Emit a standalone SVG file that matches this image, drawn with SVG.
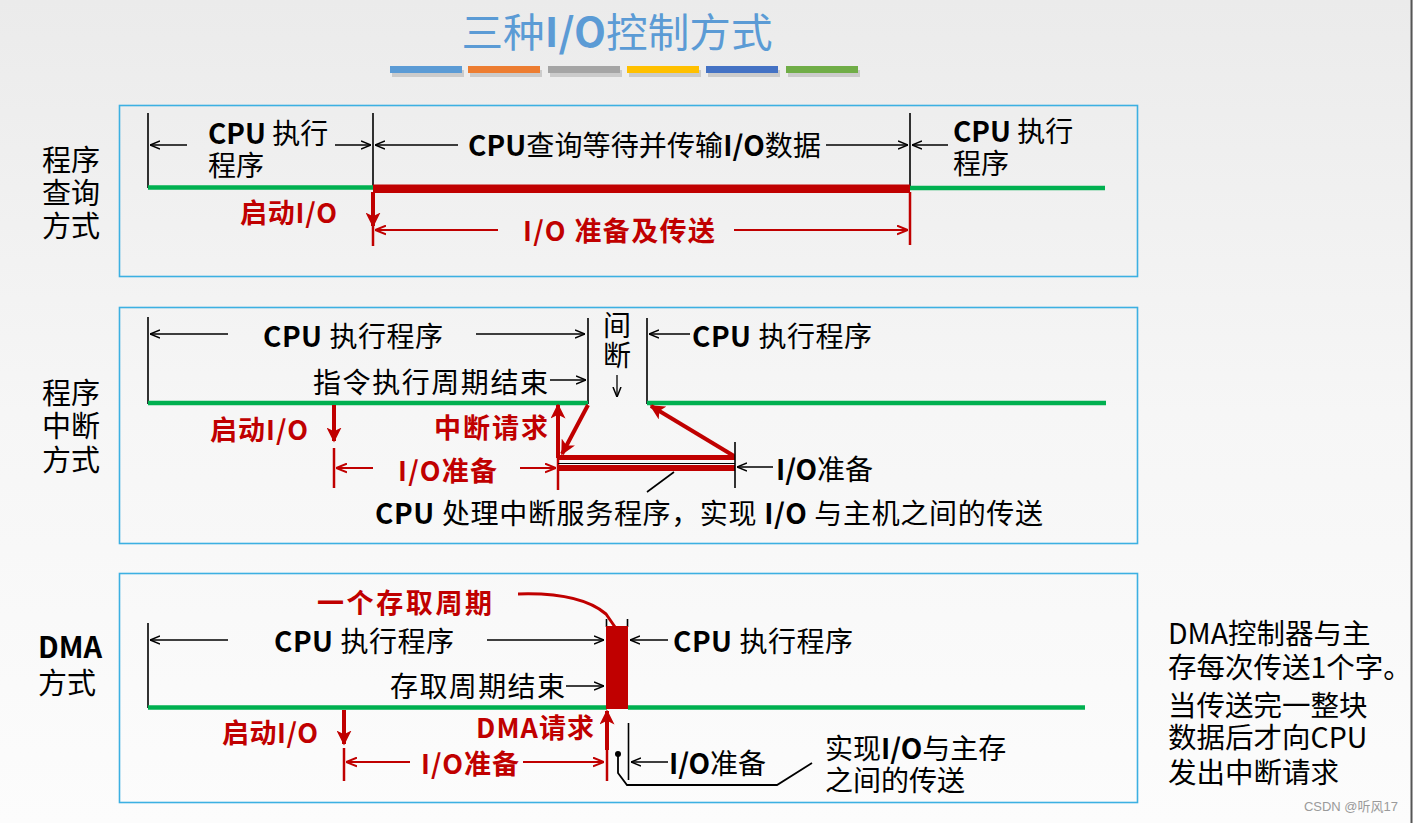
<svg xmlns="http://www.w3.org/2000/svg" width="1413" height="823" viewBox="0 0 1413 823">
<defs>
<linearGradient id="bg" x1="0" y1="0" x2="0" y2="1">
<stop offset="0" stop-color="#ebebeb"/>
<stop offset="0.5" stop-color="#f6f6f6"/>
<stop offset="1" stop-color="#fcfcfc"/>
</linearGradient>
<marker id="ab" viewBox="0 0 10 10" refX="10" refY="5" markerWidth="10" markerHeight="10" markerUnits="userSpaceOnUse" orient="auto">
<path d="M0,1 L10,5 L0,9" fill="none" stroke="#000" stroke-width="1.5"/>
</marker>
<marker id="ar" viewBox="0 0 10 10" refX="10" refY="5" markerWidth="11" markerHeight="11" markerUnits="userSpaceOnUse" orient="auto">
<path d="M0,1 L10,5 L0,9" fill="none" stroke="#c00000" stroke-width="1.8"/>
</marker>
<marker id="rf" viewBox="0 0 10 10" refX="9" refY="5" markerWidth="15" markerHeight="15" markerUnits="userSpaceOnUse" orient="auto">
<path d="M0,0 L10,5 L0,10 L2.5,5 Z" fill="#c00000"/>
</marker>
<style>
.box{fill:none;stroke:#3cb0e2;stroke-width:1.6}
.t{font-family:"Noto Sans CJK SC","Liberation Sans",sans-serif;font-size:28px;fill:#000}
.r{font-family:"Noto Sans CJK SC","Liberation Sans",sans-serif;font-size:27px;font-weight:bold;fill:#c00000}
.lbl{font-family:"Noto Sans CJK SC","Liberation Sans",sans-serif;font-size:29px;fill:#000}
.side{font-family:"Noto Sans CJK SC","Liberation Sans",sans-serif;font-size:28.5px;fill:#000}
.b{font-weight:bold}
.k{stroke:#000;stroke-width:1.6;fill:none}
.ka{stroke:#000;stroke-width:1.6;fill:none;marker-end:url(#ab)}
.ra{stroke:#c00000;stroke-width:2;fill:none;marker-end:url(#ar)}
.rt{stroke:#c00000;stroke-width:2.5;fill:none}
.rA{stroke:#c00000;stroke-width:4;fill:none;marker-end:url(#rf)}
.g{stroke:#00b050;stroke-width:4.5;fill:none}
</style>
</defs>
<rect width="1413" height="823" fill="url(#bg)"/>
<line x1="1411.5" y1="0" x2="1411.5" y2="823" stroke="#555" stroke-width="2"/>

<g id="title">
<text x="617" y="47" text-anchor="middle" font-family="'Noto Sans CJK SC','Liberation Sans',sans-serif" font-size="40" fill="#5b9bd5" textLength="311" lengthAdjust="spacingAndGlyphs">三种<tspan font-weight="bold">I/O</tspan>控制方式</text>
<g fill="#b5b5b5" opacity="0.6">
<rect x="392" y="70" width="72" height="7"/><rect x="470" y="70" width="72" height="7"/><rect x="550" y="70" width="72" height="7"/><rect x="629" y="70" width="72" height="7"/><rect x="708" y="70" width="72" height="7"/><rect x="788" y="70" width="72" height="7"/>
</g>
<rect x="390" y="66" width="72" height="7" fill="#5b9bd5"/>
<rect x="468" y="66" width="72" height="7" fill="#ed7d31"/>
<rect x="548" y="66" width="72" height="7" fill="#a5a5a5"/>
<rect x="627" y="66" width="72" height="7" fill="#ffc000"/>
<rect x="706" y="66" width="72" height="7" fill="#4472c4"/>
<rect x="786" y="66" width="72" height="7" fill="#70ad47"/>
</g>

<g id="frames">
<rect class="box" x="119.5" y="105.5" width="1018" height="171"/>
<rect class="box" x="119.5" y="307.5" width="1018" height="236"/>
<rect class="box" x="119.5" y="573.5" width="1018" height="229"/>
</g>

<g id="row-labels">
<g id="label-poll"><text class="lbl" x="42" y="171">程序<tspan x="42" dy="33">查询</tspan><tspan x="42" dy="33">方式</tspan></text></g>
<g id="label-int"><text class="lbl" x="42" y="404">程序<tspan x="42" dy="33">中断</tspan><tspan x="42" dy="34">方式</tspan></text></g>
<g id="label-dma"><text class="lbl" x="38" y="658"><tspan font-weight="bold">DMA</tspan><tspan x="38" dy="36">方式</tspan></text></g>
</g>

<g id="connectors">
<!-- section 1 -->
<line class="k" x1="148" y1="113" x2="148" y2="188"/>
<line class="k" x1="373" y1="113" x2="373" y2="188"/>
<line class="k" x1="910" y1="113" x2="910" y2="188"/>
<line class="g" x1="148" y1="187.5" x2="373" y2="187.5"/>
<rect x="373" y="184.5" width="537" height="8.5" fill="#c00000"/>
<line class="g" x1="910" y1="188" x2="1105" y2="188"/>
<line class="ka" x1="187" y1="145" x2="150" y2="145"/>
<line class="ka" x1="335" y1="145" x2="371" y2="145"/>
<line class="ka" x1="458" y1="145" x2="375" y2="145"/>
<line class="ka" x1="826" y1="145" x2="908" y2="145"/>
<line class="ka" x1="948" y1="145" x2="912" y2="145"/>
<line class="rA" x1="373" y1="192" x2="373" y2="226"/>
<line class="rt" x1="373" y1="222" x2="373" y2="246"/>
<line class="rt" x1="910" y1="192" x2="910" y2="245"/>
<line class="ra" x1="498" y1="230" x2="375" y2="230"/>
<line class="ra" x1="734" y1="230" x2="908" y2="230"/>

<!-- section 2 -->
<line class="k" x1="148" y1="317" x2="148" y2="404"/>
<line class="k" x1="588" y1="318" x2="588" y2="404"/>
<line class="k" x1="647" y1="318" x2="647" y2="404"/>
<line class="g" x1="148" y1="403" x2="588" y2="403"/>
<line class="g" x1="647" y1="403" x2="1106" y2="403"/>
<line class="ka" x1="228" y1="334" x2="150" y2="334"/>
<line class="ka" x1="476" y1="334" x2="585" y2="334"/>
<line class="ka" x1="550" y1="380" x2="586" y2="380"/>
<line class="ka" x1="690" y1="334" x2="649" y2="334"/>
<line class="k" x1="617" y1="375" x2="617" y2="397" marker-end="url(#ab)" style="stroke-width:1.3"/>
<line class="rA" x1="334" y1="405" x2="334" y2="441"/>
<line class="rt" x1="334" y1="448" x2="334" y2="488"/>
<line class="ra" x1="373" y1="468" x2="336" y2="468"/>
<line class="ra" x1="520" y1="468" x2="556" y2="468"/>
<line class="rt" x1="558" y1="455" x2="558" y2="490"/>
<line class="rA" x1="558" y1="458" x2="558" y2="405"/>
<line class="rA" x1="588" y1="405" x2="562" y2="454"/>
<rect x="558" y="455" width="177" height="5" fill="#c00000"/>
<line x1="558" y1="463.5" x2="735" y2="463.5" stroke="#000" stroke-width="1"/>
<rect x="558" y="465" width="177" height="6" fill="#c00000"/>
<line class="rA" x1="734" y1="456" x2="651" y2="406"/>
<line class="k" x1="735" y1="442" x2="735" y2="488"/>
<line class="ka" x1="773" y1="467" x2="737" y2="467"/>
<line class="k" x1="674" y1="472" x2="647" y2="492"/>

<!-- section 3 -->
<line class="k" x1="148" y1="623" x2="148" y2="708"/>
<line class="g" x1="148" y1="707.5" x2="607" y2="707.5"/>
<line class="g" x1="628" y1="707.5" x2="1085" y2="707.5"/>
<line class="k" x1="606.5" y1="619" x2="606.5" y2="627"/>
<line class="k" x1="627.5" y1="619" x2="627.5" y2="627"/>
<rect x="606" y="626" width="22" height="83" fill="#c00000"/>
<path d="M518,594 Q580,592 606,614 L615,627" fill="none" stroke="#c00000" stroke-width="3"/>
<line class="ka" x1="228" y1="640" x2="150" y2="640"/>
<line class="ka" x1="487" y1="640" x2="604" y2="640"/>
<line class="ka" x1="566" y1="686" x2="604" y2="686"/>
<line class="ka" x1="668" y1="640" x2="630" y2="640"/>
<line class="rA" x1="344" y1="710" x2="344" y2="744"/>
<line class="rt" x1="344" y1="748" x2="344" y2="781"/>
<line class="ra" x1="410" y1="762" x2="346" y2="762"/>
<line class="ra" x1="523" y1="762" x2="604" y2="762"/>
<line class="rt" x1="607" y1="740" x2="607" y2="781"/>
<line class="rA" x1="607" y1="750" x2="607" y2="711"/>
<line class="k" x1="628.5" y1="723" x2="628.5" y2="780"/>
<line class="ka" x1="668" y1="762" x2="631" y2="762"/>
<circle cx="618" cy="754" r="3" fill="#000"/>
<polyline class="k" points="618,754 618,773 627,785 777,785 812,763" style="stroke-width:1.8"/>
</g>

<g id="sec1-nodes">
<g id="s1-cpu-a"><text class="t" x="208" y="144"><tspan class="b">CPU</tspan> 执行<tspan x="208" dy="32">程序</tspan></text></g>
<g id="s1-wait"><text class="t" x="468" y="156" textLength="353"><tspan class="b">CPU</tspan>查询等待并传输<tspan class="b">I/O</tspan>数据</text></g>
<g id="s1-cpu-b"><text class="t" x="953" y="142"><tspan class="b">CPU</tspan>  执行<tspan x="953" dy="32">程序</tspan></text></g>
<g id="s1-start"><text class="r" x="240" y="223" textLength="97">启动I/O</text></g>
<g id="s1-io"><text class="r" x="523" y="241" textLength="192">I/O 准备及传送</text></g>
</g>

<g id="sec2-nodes">
<g id="s2-cpu-a"><text class="t" x="263" y="347" textLength="180"><tspan class="b">CPU</tspan>  执行程序</text></g>
<g id="s2-end"><text class="t" x="313" y="393" textLength="235">指令执行周期结束</text></g>
<g id="s2-gap"><text class="t" x="603" y="336" font-size="25">间<tspan x="603" dy="30">断</tspan></text></g>
<g id="s2-cpu-b"><text class="t" x="692" y="347" textLength="180"><tspan class="b">CPU</tspan>  执行程序</text></g>
<g id="s2-start"><text class="r" x="210" y="440" textLength="98">启动I/O</text></g>
<g id="s2-req"><text class="r" x="434" y="438" textLength="114">中断请求</text></g>
<g id="s2-prep"><text class="r" x="398" y="481" textLength="99">I/O准备</text></g>
<g id="s2-prep-b"><text class="t" x="776" y="480" textLength="97"><tspan class="b">I/O</tspan>准备</text></g>
<g id="s2-isr"><text class="t" x="375" y="524" textLength="668"><tspan class="b">CPU</tspan> 处理中断服务程序，实现 <tspan class="b">I/O</tspan> 与主机之间的传送</text></g>
</g>

<g id="sec3-nodes">
<g id="s3-cycle"><text class="r" x="317" y="613" font-size="28" textLength="175">一个存取周期</text></g>
<g id="s3-cpu-a"><text class="t" x="274" y="652" textLength="180"><tspan class="b">CPU</tspan>  执行程序</text></g>
<g id="s3-end"><text class="t" x="390" y="697" textLength="175">存取周期结束</text></g>
<g id="s3-cpu-b"><text class="t" x="673" y="652" textLength="180"><tspan class="b">CPU</tspan>  执行程序</text></g>
<g id="s3-start"><text class="r" x="222" y="743" textLength="96">启动I/O</text></g>
<g id="s3-req"><text class="r" x="476" y="738" textLength="118">DMA请求</text></g>
<g id="s3-prep"><text class="r" x="421" y="774" textLength="98">I/O准备</text></g>
<g id="s3-prep-b"><text class="t" x="669" y="774" textLength="97"><tspan class="b">I/O</tspan>准备</text></g>
<g id="s3-xfer"><text class="t" x="825" y="759">实现<tspan class="b">I/O</tspan>与主存<tspan x="825" dy="32">之间的传送</tspan></text></g>
</g>

<g id="side-note">
<text class="side" x="1168" y="644">DMA控制器与主<tspan x="1168" dy="34">存每次传送1个字。</tspan><tspan x="1168" dy="38">当传送完一整块</tspan><tspan x="1168" dy="32">数据后才向CPU</tspan><tspan x="1168" dy="35">发出中断请求</tspan></text>
</g>

<text x="1398" y="811" text-anchor="end" font-family="'Liberation Sans','Noto Sans CJK SC',sans-serif" font-size="13" fill="#9a9a9a">CSDN @听风17</text>
</svg>
